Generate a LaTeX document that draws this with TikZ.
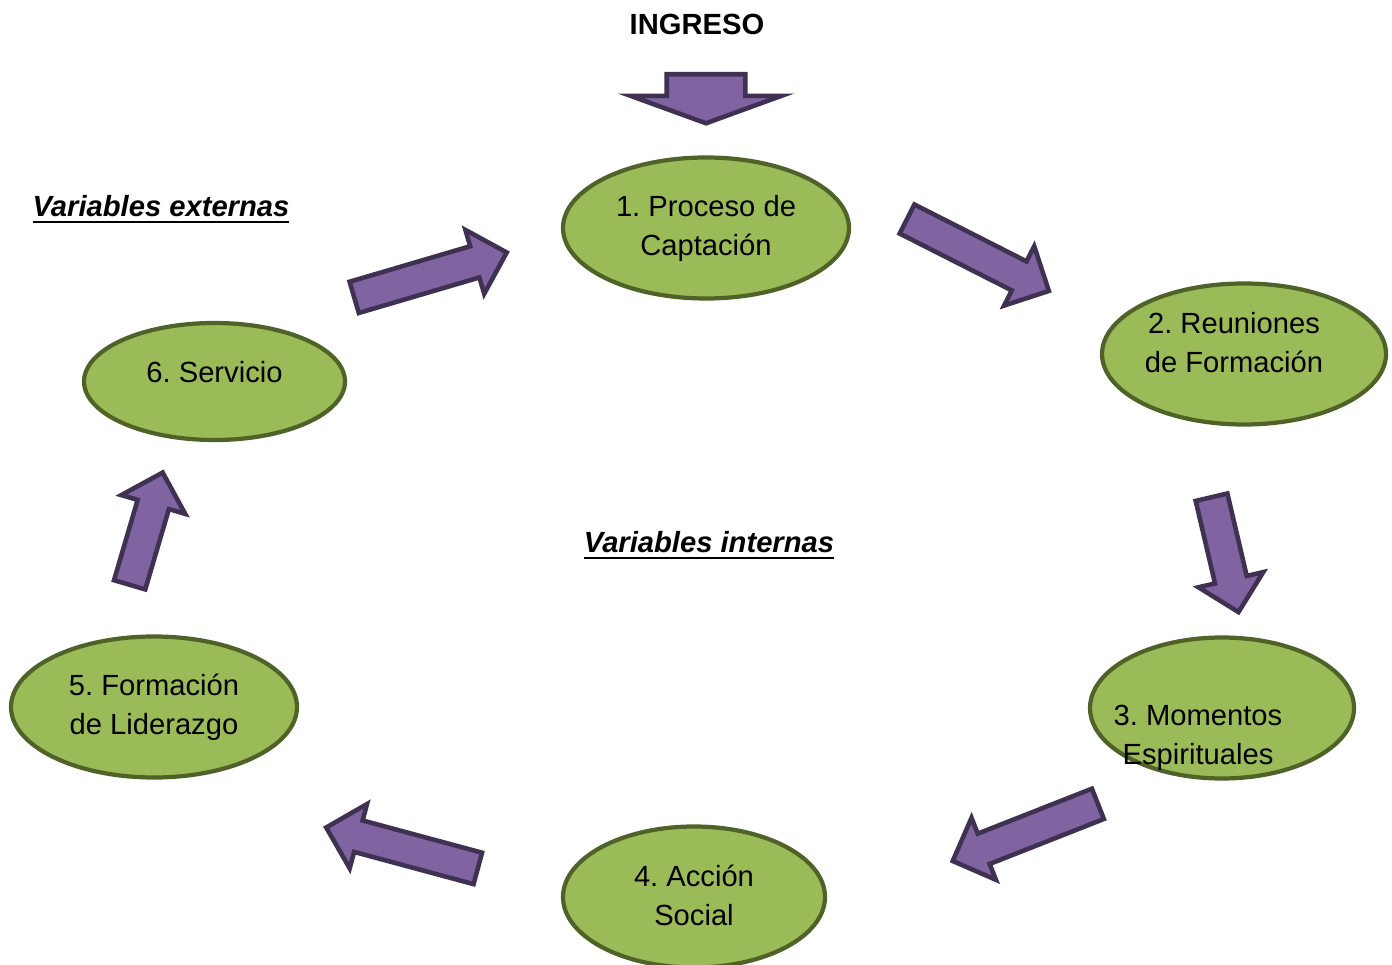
\documentclass[tikz,border=0pt]{standalone}
\usepackage{fontspec}
\setmainfont{Liberation Sans}
\usepackage{tikz}
\usetikzlibrary{shapes.geometric,shapes.arrows,positioning}
\frenchspacing

\definecolor{olive}{HTML}{9BBB59}
\definecolor{olivedark}{HTML}{4F6228}
\definecolor{lila}{HTML}{8064A2}
\definecolor{liladark}{HTML}{3F3151}

\begin{document}
\begin{tikzpicture}[font=\fontsize{8.3pt}{11.1pt}\selectfont,
                    semithick]
  \tikzstyle{etapa}=[ellipse,fill=olive,draw=olivedark,line width=1.2pt,
                     inner sep=0pt,minimum width=2.86cm,minimum height=1.41cm]
  \tikzstyle{texto}=[align=center,text=black]
  \tikzstyle{flecha}=[single arrow,fill=lila,draw=liladark,line width=1.3pt,
                      inner xsep=0pt,inner ysep=0.14cm,
                      single arrow head extend=0.17cm,anchor=tail]
  \tikzstyle{titulo}=[font=\fontsize{8.3pt}{11.1pt}\selectfont\bfseries]

  \clip (0,0) rectangle (13.92,9.64);

  % etapas
  \node[etapa] (e1) at (7.06,7.36) {};
  \node[etapa,minimum width=2.84cm] (e2) at (12.44,6.10) {};
  \node[etapa,minimum width=2.64cm] (e3) at (12.22,2.56) {};
  \node[etapa,minimum width=2.62cm] (e4) at (6.94,0.67) {};
  \node[etapa] (e5) at (1.54,2.57) {};
  \node[etapa,minimum width=2.61cm,minimum height=1.17cm] (e6) at (2.145,5.825) {};

  \node[texto] (t1) at (e1) {1. Proceso de\\Captación};
  \node[texto] (t2) at ([xshift=-0.10cm,yshift=0.11cm]e2) {2. Reuniones\\de Formación};
  \node[texto] (t3) at ([xshift=-0.24cm,yshift=-0.30cm]e3) {3. Momentos\\Espirituales};
  \node[texto] (t4) at ([yshift=0.02cm]e4) {4. Acción\\Social};
  \node[texto] (t5) at (e5) {5. Formación\\de Liderazgo};
  \node[texto] (t6) at ([yshift=0.09cm]e6) {6. Servicio};

  % titulos
  \node[titulo] (ingreso) at (6.97,9.40) {INGRESO};
  \node[titulo] (externas) at (1.61,7.54) {\underline{\itshape Variables externas}};
  \node[titulo] (internas) at (7.09,4.18) {\underline{\itshape Variables internas}};

  % flechas
  \node[flecha,rotate=-90,minimum height=0.49cm,inner ysep=0.37cm,
        single arrow head extend=0.36cm,single arrow tip angle=140] (a0) at (7.06,8.92) {};
  \node[flecha,rotate=-26.9,minimum height=1.59cm] (a12) at (9.05,7.46) {};
  \node[flecha,rotate=-76.8,minimum height=1.18cm] (a23) at (12.11,4.69) {};
  \node[flecha,rotate=-158.5,minimum height=1.56cm] (a34) at (11.00,1.61) {};
  \node[flecha,rotate=164.9,minimum height=1.57cm] (a45) at (4.80,0.95) {};
  \node[flecha,rotate=73.6,minimum height=1.17cm] (a56) at (1.29,3.77) {};
  \node[flecha,rotate=16.4,minimum height=1.59cm] (a61) at (3.52,6.66) {};
\end{tikzpicture}
\end{document}
